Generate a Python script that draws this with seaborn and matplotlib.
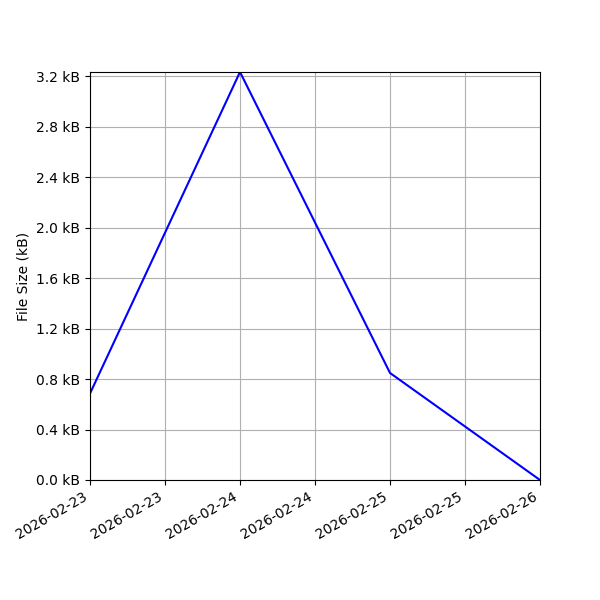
import matplotlib
matplotlib.use('Agg')
import matplotlib.pyplot as plt
import matplotlib.dates as mdates
from matplotlib.ticker import FuncFormatter, MultipleLocator
import pandas as pd
import seaborn as sns

# Data
dates = ['2026-02-23', '2026-02-24', '2026-02-25', '2026-02-26']
sizes_kb = [0.685, 3.232, 0.848, 0.0]

df = pd.DataFrame({'date': pd.to_datetime(dates), 'size': sizes_kb})

fig, ax = plt.subplots(figsize=(6, 6), dpi=100)
sns.lineplot(data=df, x='date', y='size', color='blue', ax=ax)

ax.set_xlim(df['date'].min(), df['date'].max())
ax.set_ylim(0, df['size'].max())
ax.yaxis.set_major_locator(MultipleLocator(0.4))
ax.yaxis.set_major_formatter(FuncFormatter(lambda v, p: f'{v:.1f} kB'))
ax.xaxis.set_major_locator(mdates.HourLocator(interval=12))
ax.xaxis.set_major_formatter(mdates.DateFormatter('%Y-%m-%d'))
ax.set_xlabel('')
ax.set_ylabel('File Size (kB)')
ax.grid(True)
fig.autofmt_xdate()
fig.subplots_adjust(left=0.15, right=0.9, top=0.88, bottom=0.2)

fig.savefig('out.png')
